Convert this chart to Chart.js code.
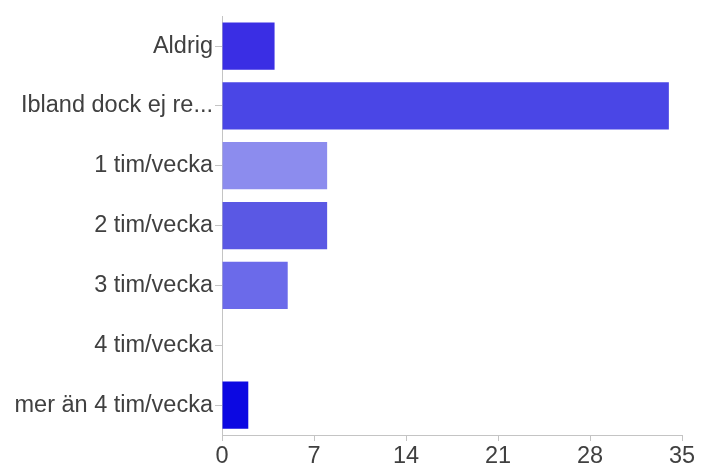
<!DOCTYPE html>
<html lang="sv">

<head>
  <meta charset="UTF-8">
  <title>Tid per vecka</title>
  <script src="https://cdn.jsdelivr.net/npm/chart.js"></script>
  <style>
    body {
      margin: 0;
      padding: 0;
      background: #ffffff;
    }

    .wrap {
      width: 706px;
      height: 466px;
    }
  </style>
</head>

<body>
  <div class="wrap">
    <canvas id="barChart" width="706" height="466"></canvas>
  </div>

  <script>
    const categories = [
      "Aldrig",
      "Ibland dock ej re...",
      "1 tim/vecka",
      "2 tim/vecka",
      "3 tim/vecka",
      "4 tim/vecka",
      "mer än 4 tim/vecka"
    ];
    const answers = [4, 34, 8, 8, 5, 0, 2];
    const xTicks = [0, 7, 14, 21, 28, 35];

    const barColors = ["#3a2ee4", "#4a46e6", "#8c8cee", "#5a58e4", "#6b6aea", "#6b6aea", "#0c08e2"];
    const axisColor = "#c4c4c4";
    const labelColor = "#404040";
    const labelFont = { family: "'Liberation Sans', Arial, sans-serif", size: 23.5 };

    const ctx = document.getElementById("barChart").getContext("2d");
    new Chart(ctx, {
      type: "bar",
      data: {
        labels: categories,
        datasets: [{
          data: answers,
          backgroundColor: barColors,
          borderWidth: 0,
          barPercentage: 0.79,
          categoryPercentage: 1.0
        }]
      },
      options: {
        indexAxis: "y",
        responsive: false,
        animation: false,
        layout: {
          padding: { top: 14, right: 24, bottom: 0, left: 0 }
        },
        plugins: {
          legend: { display: false },
          tooltip: { enabled: false }
        },
        scales: {
          x: {
            min: xTicks[0],
            max: xTicks[xTicks.length - 1],
            afterBuildTicks: (scale) => {
              scale.ticks = xTicks.map(v => ({ value: v }));
            },
            afterFit: (scale) => { scale.height = 31; },
            grid: {
              drawOnChartArea: false,
              drawTicks: true,
              tickLength: 6,
              color: axisColor
            },
            border: { display: true, color: axisColor, width: 1 },
            ticks: {
              color: labelColor,
              padding: 1,
              maxRotation: 0,
              font: labelFont
            }
          },
          y: {
            afterFit: (scale) => { scale.width = 222; },
            grid: {
              offset: false,
              drawOnChartArea: false,
              drawTicks: true,
              tickLength: 7,
              color: axisColor
            },
            border: { display: true, color: axisColor, width: 1 },
            ticks: {
              color: labelColor,
              padding: 2,
              autoSkip: false,
              font: labelFont
            }
          }
        }
      }
    });
  </script>
</body>

</html>
